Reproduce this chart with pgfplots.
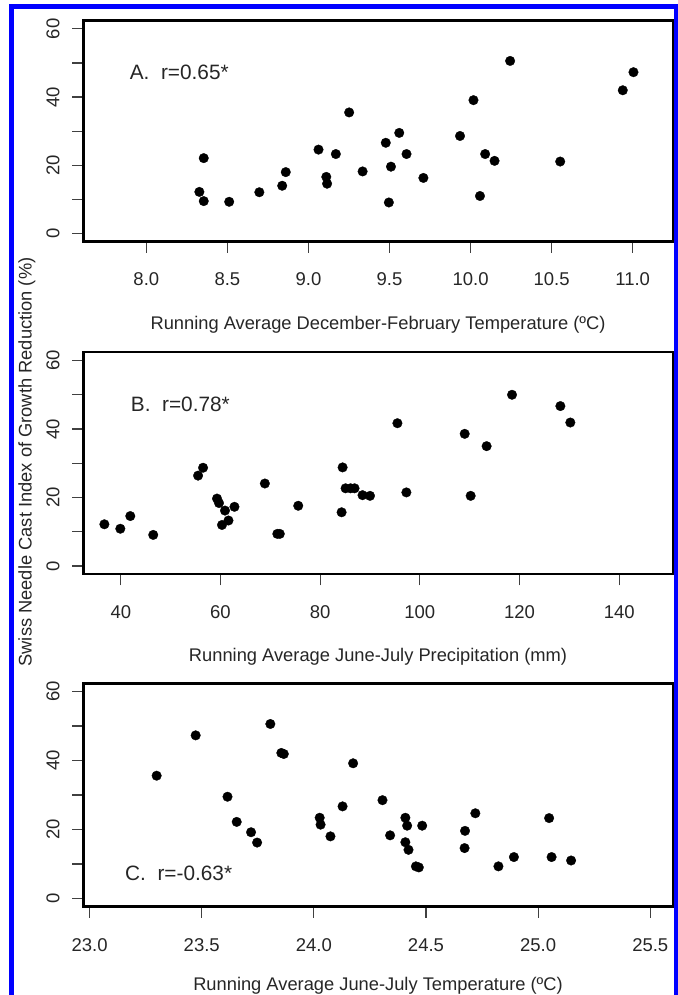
\documentclass[border=0pt]{standalone}
\usepackage{fontspec}
\setmainfont{Liberation Sans}
\usepackage{pgfplots}
\pgfplotsset{compat=1.18}
\definecolor{txt}{gray}{0.15}
\pgfplotsset{
  panel/.style={
    scale only axis, width=589.4bp,
    anchor=south west,
    axis line style={line width=2.4bp, black, line cap=rect},
    tick style={line width=1.2bp, black!75},
    major tick length=11bp,
    tick align=outside,
    xtick pos=bottom, ytick pos=left,
    ymin=-2.4, ymax=62.4,
    ytick={0,10,...,60}, yticklabels={0,,20,,40,,60},
    ticklabel style={font=\fontsize{18.5bp}{20bp}\selectfont, text=txt, inner sep=0pt},
    yticklabel style={xshift=-13.0bp, rotate=90, anchor=base},
    xticklabel style={yshift=-33.3bp, anchor=base},
    /pgf/number format/assume math mode=true,
    clip=false,
  },
  dots/.style={only marks, mark=*, mark size=4.8bp, mark options={draw=black, fill=black, line width=0.3bp}},
}
\tikzset{ann/.style={anchor=base west, inner sep=0pt, text=txt, font=\fontsize{20.8bp}{22bp}\selectfont}}
\begin{document}
\begin{tikzpicture}
\useasboundingbox (0,0) rectangle (678bp,995bp);
% Panel A
\begin{axis}[panel, at={(83.3bp,753.3bp)}, height=221bp,
  xmin=7.611, xmax=11.247, xtick={8,8.5,...,11},
  xticklabel style={/pgf/number format/.cd, fixed, fixed zerofill, precision=1}]
\addplot[dots] coordinates {
(8.327,12.2) (8.354,22.1) (8.354,9.5) (8.511,9.3) (8.697,12.1) (8.838,14.0)
(8.860,18.0) (9.062,24.6) (9.110,16.6) (9.115,14.6) (9.169,23.3) (9.251,35.5)
(9.334,18.2) (9.477,26.6) (9.560,29.5) (9.509,19.6) (9.496,9.1) (9.605,23.3)
(9.709,16.3) (9.935,28.6) (10.018,39.1) (10.058,11.0) (10.090,23.3) (10.148,21.3)
(10.244,50.6) (10.553,21.1) (10.939,42.0) (11.005,47.3)
};
\node[ann] at (axis cs:7.897,45.3) {A.\ \ r=0.65*};
\end{axis}
% Panel B
\begin{axis}[panel, at={(83.3bp,420.7bp)}, height=222bp,
  xmin=32.47, xmax=150.74, xtick={40,60,...,140}]
\addplot[dots] coordinates {
(36.7,12.2) (39.9,10.9) (41.9,14.6) (46.5,9.1) (55.5,26.4) (56.5,28.7)
(59.3,19.7) (59.7,18.4) (60.3,12.0) (60.9,16.2) (61.6,13.3) (62.8,17.3)
(68.9,24.1) (71.4,9.4) (71.9,9.4) (75.6,17.6) (84.3,15.7) (84.5,28.8)
(85.1,22.7) (86.1,22.7) (86.9,22.7) (88.5,20.7) (90.0,20.5) (95.5,41.7)
(97.3,21.5) (109.0,38.6) (110.2,20.5) (113.4,35.0) (118.5,50.0) (128.2,46.7)
(130.2,41.9)
};
\node[ann] at (axis cs:41.99,45.1) {B.\ \ r=0.78*};
\end{axis}
% Panel C
\begin{axis}[panel, at={(83.3bp,88.3bp)}, height=223.4bp,
  xmin=22.972, xmax=25.600, xtick={23,23.5,...,25.5},
  xticklabel style={/pgf/number format/.cd, fixed, fixed zerofill, precision=1}]
\addplot[dots] coordinates {
(23.299,35.6) (23.473,47.3) (23.806,50.6) (23.855,42.2) (23.866,41.9) (23.615,29.5)
(23.656,22.2) (23.720,19.2) (23.747,16.2) (24.026,23.4) (24.030,21.4) (24.074,18.0)
(24.128,26.7) (24.175,39.2) (24.306,28.5) (24.340,18.3) (24.408,23.4) (24.416,21.1)
(24.408,16.3) (24.422,14.1) (24.455,9.3) (24.468,9.0) (24.483,21.1) (24.674,19.6)
(24.672,14.6) (24.720,24.7) (24.823,9.3) (24.892,12.0) (25.049,23.3) (25.060,12.0)
(25.147,11.0)
};
\node[ann] at (axis cs:23.158,5.2) {C.\ \ r=-0.63*};
\end{axis}
% Axis titles
\begin{scope}[every node/.style={inner sep=0pt, text=txt, font=\fontsize{18.3bp}{20bp}\selectfont}]
\node[anchor=base] at (378bp,665.8bp) {Running Average December-February Temperature (ºC)};
\node[anchor=base] at (378bp,333.2bp) {Running Average June-July Precipitation (mm)};
\node[anchor=base] at (378bp,4.6bp) {Running Average June-July Temperature (ºC)};
\node[rotate=90, anchor=base] at (31.5bp,533bp) {Swiss Needle Cast Index of Growth Reduction (\%)};
\end{scope}
% Blue frame
\draw[blue, line width=4.7bp] (11.7bp,-5bp) -- (11.7bp,990.5bp);
\draw[blue, line width=5bp] (9.3bp,988bp) -- (678bp,988bp);
\draw[blue, line width=4.4bp] (676.2bp,990.5bp) -- (676.2bp,-5bp);
\end{tikzpicture}
\end{document}
